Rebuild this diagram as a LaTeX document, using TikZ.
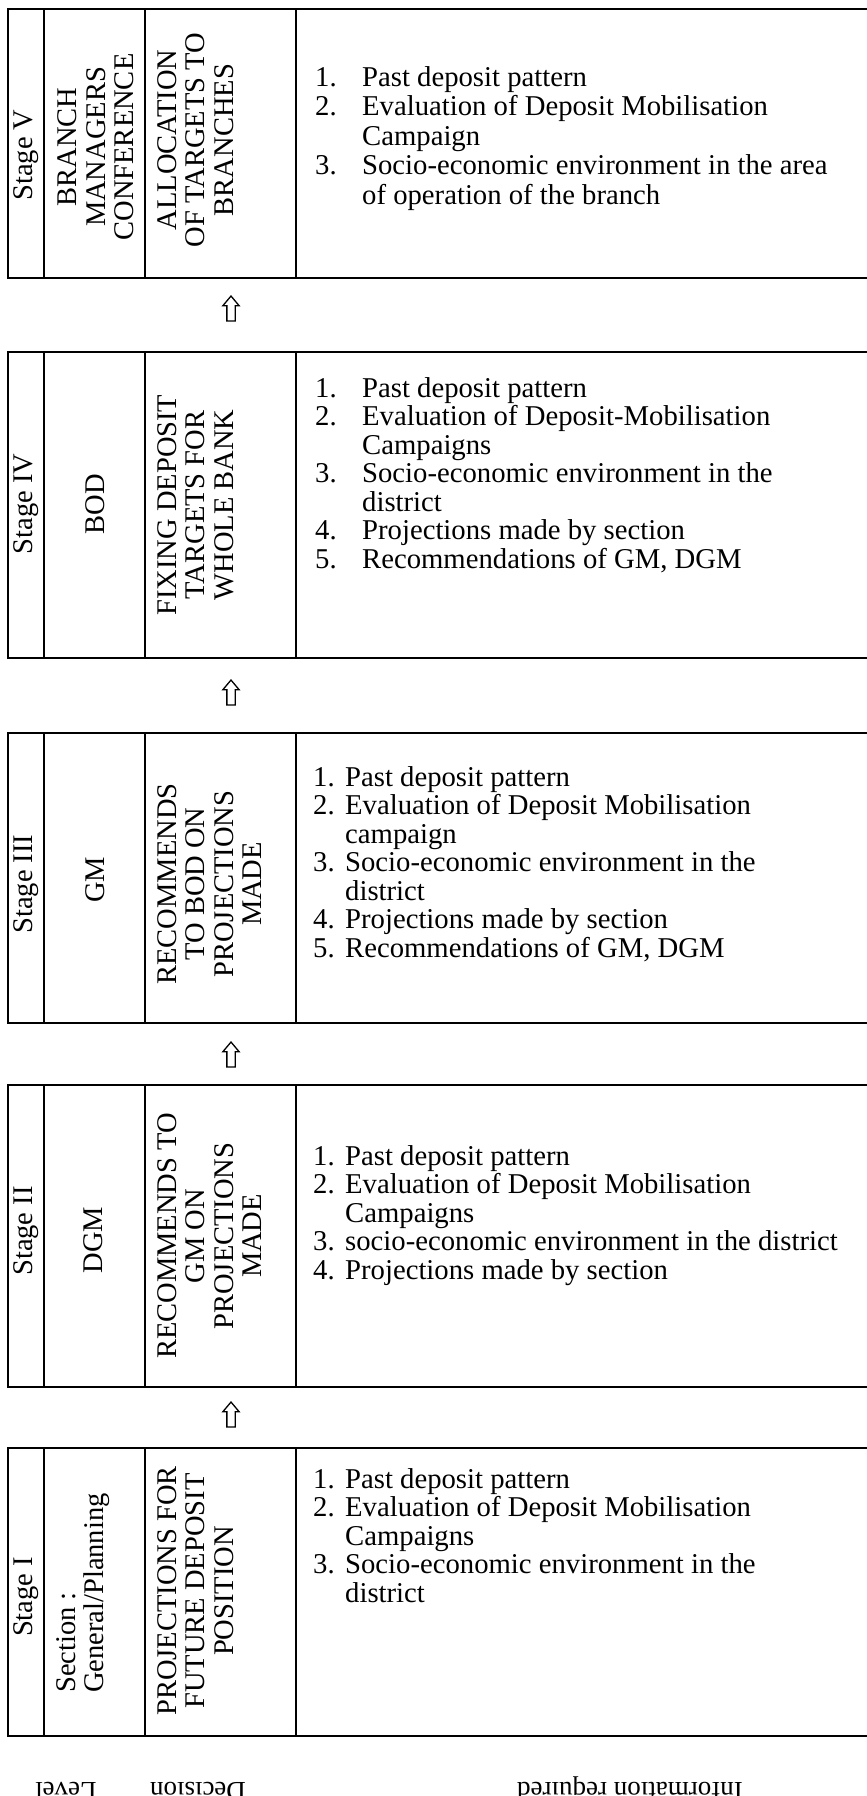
\documentclass[tikz,border=0pt]{standalone}
\usepackage{fontspec}
\setmainfont{Liberation Serif}
\usetikzlibrary{shapes.arrows}

% width reserved for the item numbers of a list
\newlength\itemnow
\newcommand{\itemno}[1]{\makebox[\itemnow][l]{#1}}

% the four cells of one stage: #1 prefix, #2 top edge, #3 height
\newcommand{\stagecells}[3]{%
  \node[cell, minimum width=36pt,  minimum height=#3] (#1lev) at (8,#2) {};
  \node[cell, minimum width=101pt, minimum height=#3] (#1dec) at (44,#2) {};
  \node[cell, minimum width=151pt, minimum height=#3] (#1act) at (145,#2) {};
  \node[cell, minimum width=590pt, minimum height=#3] (#1inf) at (296,#2) {};}

\begin{document}
\begin{tikzpicture}[x=1pt,y=-1pt,
  cell/.style={draw, line width=1.8pt, anchor=north west, inner sep=0pt, outer sep=0pt},
  vtext/.style={rotate=90, inner sep=0pt, align=center, font=\fontsize{28.5}{28.5}\selectfont},
  listtext/.style={anchor=base west, inner sep=0pt, font=\fontsize{28.7}{28.5}\selectfont},
  widelist/.style={listtext, font=\fontsize{28.7}{29.5}\selectfont},
  uparrow/.style={single arrow, draw, line width=1.3pt, shape border rotate=90,
    inner sep=3.5pt, single arrow head extend=4pt, minimum height=25pt, single arrow tip angle=80},
  colhead/.style={rotate=180, inner sep=0pt, anchor=base, font=\fontsize{27}{27}\selectfont}]
\useasboundingbox (0,0) rectangle (867,1796);

% ---------------- Stage V ----------------
\stagecells{s5}{9}{269pt}
\node[vtext] (s5stage) at (26,155) {Stage V};
\node[vtext] (s5who) at (96,147) {BRANCH\\MANAGERS\\CONFERENCE};
\node[vtext, anchor=north] (s5what) at (157,140) {ALLOCATION\\OF TARGETS TO\\BRANCHES};
\setlength\itemnow{47pt}
\node[widelist] (s5need) at (315,86) {\begin{tabular}[t]{@{}l@{}l@{}}
\itemno{1.} & Past deposit pattern\\
\itemno{2.} & Evaluation of Deposit Mobilisation\\
 & Campaign\\
\itemno{3.} & Socio-economic environment in the area\\
 & of operation of the branch
\end{tabular}};

\node[uparrow] (up4) at (231,311) {};

% ---------------- Stage IV ----------------
\stagecells{s4}{352}{306pt}
\node[vtext] (s4stage) at (26,504) {Stage IV};
\node[vtext] (s4who) at (95,504) {BOD};
\node[vtext, anchor=north] (s4what) at (157,505) {FIXING DEPOSIT\\TARGETS FOR\\WHOLE BANK};
\node[listtext] (s4need) at (315,397) {\begin{tabular}[t]{@{}l@{}l@{}}
\itemno{1.} & Past deposit pattern\\
\itemno{2.} & Evaluation of Deposit-Mobilisation\\
 & Campaigns\\
\itemno{3.} & Socio-economic environment in the\\
 & district\\
\itemno{4.} & Projections made by section\\
\itemno{5.} & Recommendations of GM, DGM
\end{tabular}};

\node[uparrow] (up3) at (231,695) {};

% ---------------- Stage III ----------------
\stagecells{s3}{733}{290pt}
\node[vtext] (s3stage) at (26,884) {Stage III};
\node[vtext] (s3who) at (95,880) {GM};
\node[vtext, anchor=north] (s3what) at (157,884) {RECOMMENDS\\TO BOD ON\\PROJECTIONS\\MADE};
\setlength\itemnow{32pt}
\node[listtext] (s3need) at (313,786) {\begin{tabular}[t]{@{}l@{}l@{}}
\itemno{1.} & Past deposit pattern\\
\itemno{2.} & Evaluation of Deposit Mobilisation\\
 & campaign\\
\itemno{3.} & Socio-economic environment in the\\
 & district\\
\itemno{4.} & Projections made by section\\
\itemno{5.} & Recommendations of GM, DGM
\end{tabular}};

\node[uparrow] (up2) at (231,1057) {};

% ---------------- Stage II ----------------
\stagecells{s2}{1085}{302pt}
\node[vtext] (s2stage) at (26,1231) {Stage II};
\node[vtext] (s2who) at (93,1240) {DGM};
\node[vtext, anchor=north] (s2what) at (157,1236) {RECOMMENDS TO\\GM ON\\PROJECTIONS\\MADE};
\node[listtext] (s2need) at (313,1165) {\begin{tabular}[t]{@{}l@{}l@{}}
\itemno{1.} & Past deposit pattern\\
\itemno{2.} & Evaluation of Deposit Mobilisation\\
 & Campaigns\\
\itemno{3.} & socio-economic environment in the district\\
\itemno{4.} & Projections made by section
\end{tabular}};

\node[uparrow] (up1) at (231,1417) {};

% ---------------- Stage I ----------------
\stagecells{s1}{1448}{288pt}
\node[vtext] (s1stage) at (26,1597) {Stage I};
\node[vtext, align=left, anchor=north west] (s1who) at (56,1693) {Section :\\General/Planning};
\node[vtext, anchor=north] (s1what) at (157,1591) {PROJECTIONS FOR\\FUTURE DEPOSIT\\POSITION};
\node[listtext] (s1need) at (313,1488) {\begin{tabular}[t]{@{}l@{}l@{}}
\itemno{1.} & Past deposit pattern\\
\itemno{2.} & Evaluation of Deposit Mobilisation\\
 & Campaigns\\
\itemno{3.} & Socio-economic environment in the\\
 & district
\end{tabular}};

% ---------------- column headings ----------------
\node[colhead] (hlevel) at (66,1782) {Level};
\node[colhead] (hdecision) at (198,1782) {Decision};
\node[colhead] (hinfo) at (630,1782) {Information required};
\end{tikzpicture}
\end{document}
